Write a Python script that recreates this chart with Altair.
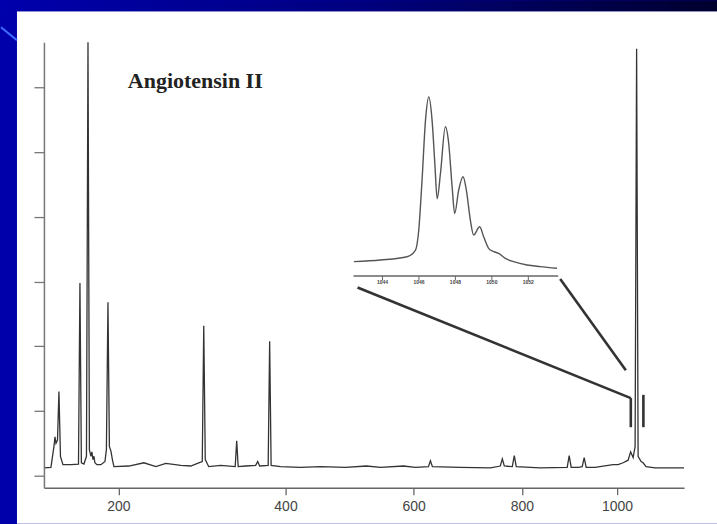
import altair as alt
import pandas as pd

# ---------------- data ----------------
# main spectrum: m/z and relative intensity (axis tick units)
mz = [133.0, 138.7, 141.2, 142.1, 142.9, 144.2, 145.4, 146.7, 148.8, 155.7,
      162.4, 163.7, 165.0, 167.3, 169.6, 171.0, 172.3, 173.7, 174.6, 175.6,
      176.5, 177.4, 179.3, 183.1, 186.9, 188.3, 189.8, 191.2, 192.7, 194.1,
      195.6, 210.5, 226.1, 238.9, 249.8, 266.7, 278.2, 287.6, 291.8, 293.6,
      295.4, 299.6, 314.4, 332.6, 334.5, 336.4, 346.1, 359.3, 362.0, 364.6,
      376.1, 378.1, 380.1, 393.2, 421.5, 450.7, 488.6, 521.7, 544.3, 582.5,
      602.9, 625.5, 629.0, 632.5, 682.8, 738.8, 757.9, 761.8, 765.6, 781.2,
      785.1, 789.0, 837.0, 892.5, 896.7, 900.9, 915.7, 924.2, 928.4, 932.7,
      952.0, 980.3, 991.3, 1002.4, 1013.5, 1024.6, 1030.3, 1035.9, 1040.4,
      1043.8, 1047.2, 1054.0, 1058.5, 1065.4, 1086.0, 1120.9, 1154.0]
intensity = [0.12, 0.13, 0.45, 0.60, 0.50, 0.55, 1.30, 0.30, 0.17, 0.17,
             0.18, 2.98, 0.20, 0.18, 0.30, 6.70, 0.40, 0.30, 0.37, 0.25,
             0.30, 0.20, 0.17, 0.17, 0.22, 0.40, 2.68, 0.45, 0.38, 0.25,
             0.14, 0.15, 0.20, 0.14, 0.19, 0.16, 0.15, 0.20, 0.22, 2.32,
             0.25, 0.14, 0.16, 0.14, 0.54, 0.14, 0.15, 0.16, 0.22, 0.15,
             0.16, 2.08, 0.16, 0.14, 0.13, 0.14, 0.13, 0.15, 0.13, 0.15,
             0.13, 0.14, 0.23, 0.14, 0.13, 0.12, 0.15, 0.26, 0.15, 0.14,
             0.31, 0.14, 0.12, 0.13, 0.31, 0.13, 0.13, 0.14, 0.28, 0.13,
             0.13, 0.16, 0.17, 0.17, 0.20, 0.24, 0.37, 0.28, 0.45,
             6.60, 0.30, 0.22, 0.20, 0.14, 0.12, 0.12, 0.12]

x_ticks = [200, 400, 600, 800, 1000]
y_ticks = [0, 1, 2, 3, 4, 5, 6]

# inset: zoom on the molecular ion isotope cluster
inset_mz = [1042.43, 1043.89, 1045.35, 1045.81, 1045.99, 1046.17, 1046.36,
            1046.54, 1046.72, 1046.87, 1047.00, 1047.18, 1047.45, 1047.63,
            1047.82, 1047.96, 1048.18, 1048.42, 1048.60, 1048.82, 1049.00,
            1049.33, 1049.55, 1049.82, 1050.10, 1050.37, 1050.74, 1051.19,
            1051.93, 1052.66, 1053.57]
inset_int = [0.080, 0.089, 0.107, 0.144, 0.256, 0.533, 0.867,
             0.996, 0.867, 0.628, 0.430, 0.570, 0.830, 0.740,
             0.496, 0.348, 0.478, 0.552, 0.478, 0.311, 0.228,
             0.274, 0.218, 0.154, 0.135, 0.126, 0.098, 0.080,
             0.061, 0.052, 0.043]
inset_ticks = [1044, 1046, 1048, 1050, 1052]
inset_domain = [1042.41, 1053.64]

# zoom connector lines and bracket marks (m/z, intensity)
conn_x1 = [507.4, 877.9, 1030.7, 1059.2]
conn_y1 = [2.91, 3.04, 1.20, 1.25]
conn_x2 = [1030.7, 1019.5, 1030.7, 1059.2]
conn_y2 = [1.20, 1.63, 0.75, 0.75]

title_text = ["Angiotensin II"]
title_x = [283.5]
title_y = [6.10]

# ---------------- chart ----------------
W, H = 641, 446
INK = "#333333"

xscale = alt.Scale(type="sqrt", domain=[133, 1154], nice=False, zero=False)
yscale = alt.Scale(domain=[-0.185, 6.7], nice=False, zero=False)

xaxis = alt.Axis(values=x_ticks, title=None, grid=False, labelFontSize=14,
                 labelFont="Liberation Sans", labelColor="#444444",
                 domainColor="#666666", domainWidth=1.5, tickColor="#666666",
                 tickWidth=1.3, tickSize=7, labelPadding=5, zindex=1,
                 format="d")
yaxis = alt.Axis(values=y_ticks, title=None, grid=False, labels=False,
                 domainColor="#777777", domainWidth=1.5, tickColor="#777777",
                 tickWidth=1.3, tickSize=10, zindex=1)

one = pd.DataFrame({"a": [0]})

frame_blue = alt.Chart(one).mark_rect(color="#0000aa").encode(
    x=alt.value(-43), x2=alt.value(674), y=alt.value(-42), y2=alt.value(482))
frame_white = alt.Chart(one).mark_rect(color="#ffffff").encode(
    x=alt.value(-27), x2=alt.value(674), y=alt.value(-31), y2=alt.value(482))
frame_top = alt.Chart(one).mark_rect(
    fill={"gradient": "linear", "x1": 0, "x2": 1, "y1": 0, "y2": 0,
          "stops": [{"offset": 0, "color": "#0000ac"},
                    {"offset": 0.5, "color": "#000080"},
                    {"offset": 1, "color": "#00002e"}]}
).encode(x=alt.value(-43), x2=alt.value(674), y=alt.value(-42), y2=alt.value(-31))
swoosh = alt.Chart(one).mark_rule(color="#3f6fff", strokeWidth=2).encode(
    x=alt.value(-43), x2=alt.value(-27), y=alt.value(-15), y2=alt.value(-2))

spec_df = pd.DataFrame({"mz": mz, "I": intensity})
spectrum = alt.Chart(spec_df).mark_line(color=INK, strokeWidth=1.3).encode(
    x=alt.X("mz:Q", scale=xscale, axis=xaxis),
    y=alt.Y("I:Q", scale=yscale, axis=yaxis),
)

conn_df = pd.DataFrame({"x1": conn_x1, "y1": conn_y1, "x2": conn_x2, "y2": conn_y2})
connectors = alt.Chart(conn_df).mark_rule(color=INK, strokeWidth=2.6).encode(
    x=alt.X("x1:Q", scale=xscale, axis=xaxis), x2="x2:Q",
    y=alt.Y("y1:Q", scale=yscale, axis=yaxis), y2="y2:Q",
)

title_df = pd.DataFrame({"x": title_x, "y": title_y, "t": title_text})
title = alt.Chart(title_df).mark_text(
    font="Liberation Serif", fontWeight="bold", fontSize=22, color="#222222",
    align="center", baseline="middle"
).encode(
    x=alt.X("x:Q", scale=xscale, axis=xaxis),
    y=alt.Y("y:Q", scale=yscale, axis=yaxis),
    text="t:N",
)

main = alt.layer(frame_blue, frame_white, frame_top, swoosh,
                 spectrum, connectors, title)

ixscale = alt.Scale(domain=inset_domain, range=[310, 515], nice=False, zero=False)
iyscale = alt.Scale(domain=[0, 1], range=[234, 54], nice=False, zero=False)

inset_df = pd.DataFrame({"imz": inset_mz, "iv": inset_int})
inset_line = alt.Chart(inset_df).mark_line(
    color="#555555", strokeWidth=1.4, interpolate="monotone"
).encode(
    x=alt.X("imz:Q", scale=ixscale, axis=None),
    y=alt.Y("iv:Q", scale=iyscale, axis=None),
)
iax_df = pd.DataFrame({"a": [inset_domain[0]], "b": [inset_domain[1]], "v": [0.0]})
inset_axis = alt.Chart(iax_df).mark_rule(color="#666666", strokeWidth=1.3).encode(
    x=alt.X("a:Q", scale=ixscale, axis=None), x2="b:Q",
    y=alt.Y("v:Q", scale=iyscale, axis=None),
)
itk_df = pd.DataFrame({"t": inset_ticks, "v0": [0.0] * 5, "v1": [-0.025] * 5,
                       "vl": [-0.036] * 5})
inset_tick = alt.Chart(itk_df).mark_rule(color="#666666", strokeWidth=1).encode(
    x=alt.X("t:Q", scale=ixscale, axis=None),
    y=alt.Y("v0:Q", scale=iyscale, axis=None), y2="v1:Q",
)
inset_lab = alt.Chart(itk_df).mark_text(
    fontSize=5, font="Liberation Sans", fontWeight="bold", color="#444444",
    baseline="middle", align="center"
).encode(
    x=alt.X("t:Q", scale=ixscale, axis=None),
    y=alt.Y("vl:Q", scale=iyscale, axis=None),
    text=alt.Text("t:Q", format="d"),
)
inset = alt.layer(inset_line, inset_axis, inset_tick, inset_lab)

chart = alt.layer(main, inset).resolve_scale(
    x="independent", y="independent"
).properties(
    width=W, height=H, padding=0, background="#0000aa"
).configure_view(stroke=None)

chart.save("out.html", embed_options={"renderer": "svg", "actions": False})
